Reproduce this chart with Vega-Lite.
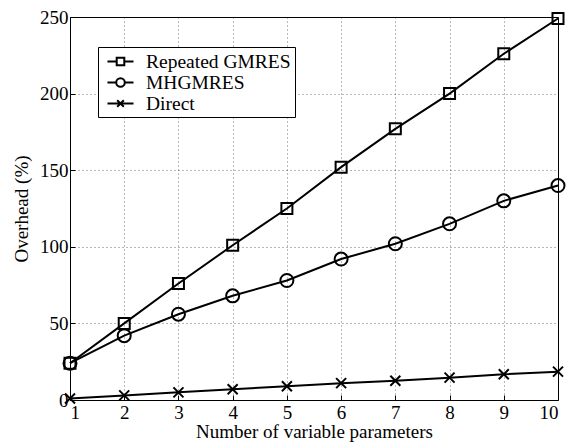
{
  "$schema": "https://vega.github.io/schema/vega-lite/v6.json",
  "width": 488,
  "height": 383,
  "autosize": "none",
  "padding": {"left": 70, "top": 17, "right": 22, "bottom": 44},
  "background": "white",
  "config": {
    "font": "Liberation Serif",
    "view": {"stroke": "black", "strokeWidth": 1},
    "axis": {
      "domain": false,
      "tickColor": "black",
      "tickSize": -5,
      "tickWidth": 1,
      "labelFont": "Liberation Serif",
      "labelFontSize": 19,
      "labelColor": "black",
      "titleFont": "Liberation Serif",
      "titleFontSize": 19,
      "titleFontWeight": "normal",
      "titleColor": "black",
      "gridColor": "black",
      "gridDash": [1, 3],
      "gridWidth": 0.8,
      "gridOpacity": 0.7
    }
  },
  "data": {
    "values": [
      {"n": 1, "series": "Repeated GMRES", "overhead": 24},
      {"n": 2, "series": "Repeated GMRES", "overhead": 50},
      {"n": 3, "series": "Repeated GMRES", "overhead": 76},
      {"n": 4, "series": "Repeated GMRES", "overhead": 101},
      {"n": 5, "series": "Repeated GMRES", "overhead": 125},
      {"n": 6, "series": "Repeated GMRES", "overhead": 152},
      {"n": 7, "series": "Repeated GMRES", "overhead": 177},
      {"n": 8, "series": "Repeated GMRES", "overhead": 200},
      {"n": 9, "series": "Repeated GMRES", "overhead": 226},
      {"n": 10, "series": "Repeated GMRES", "overhead": 249},
      {"n": 1, "series": "MHGMRES", "overhead": 24},
      {"n": 2, "series": "MHGMRES", "overhead": 42},
      {"n": 3, "series": "MHGMRES", "overhead": 56},
      {"n": 4, "series": "MHGMRES", "overhead": 68},
      {"n": 5, "series": "MHGMRES", "overhead": 78},
      {"n": 6, "series": "MHGMRES", "overhead": 92},
      {"n": 7, "series": "MHGMRES", "overhead": 102},
      {"n": 8, "series": "MHGMRES", "overhead": 115},
      {"n": 9, "series": "MHGMRES", "overhead": 130},
      {"n": 10, "series": "MHGMRES", "overhead": 140},
      {"n": 1, "series": "Direct", "overhead": 1},
      {"n": 2, "series": "Direct", "overhead": 3},
      {"n": 3, "series": "Direct", "overhead": 5},
      {"n": 4, "series": "Direct", "overhead": 7},
      {"n": 5, "series": "Direct", "overhead": 9},
      {"n": 6, "series": "Direct", "overhead": 11},
      {"n": 7, "series": "Direct", "overhead": 12.6},
      {"n": 8, "series": "Direct", "overhead": 14.6},
      {"n": 9, "series": "Direct", "overhead": 16.8},
      {"n": 10, "series": "Direct", "overhead": 18.5}
    ]
  },
  "encoding": {
    "x": {
      "field": "n",
      "type": "quantitative",
      "scale": {"domain": [1, 10], "nice": false},
      "axis": {"values": [1, 2, 3, 4, 5, 6, 7, 8, 9, 10], "title": "Number of variable parameters", "labelPadding": 8, "titlePadding": 0}
    },
    "y": {
      "field": "overhead",
      "type": "quantitative",
      "scale": {"domain": [0, 250], "nice": false},
      "axis": {"values": [0, 50, 100, 150, 200, 250], "title": "Overhead (%)", "labelPadding": 7, "titlePadding": 8}
    }
  },
  "layer": [
    {
      "mark": {"type": "line", "strokeWidth": 2, "color": "black"},
      "encoding": {
        "color": {
          "field": "series",
          "type": "nominal",
          "scale": {"domain": ["Repeated GMRES", "MHGMRES", "Direct"], "range": ["black", "black", "black"]},
          "legend": {
            "orient": "none",
            "legendX": 28,
            "legendY": 30,
            "title": null,
            "strokeColor": "black",
            "fillColor": "white",
            "padding": 4,
            "labelFont": "Liberation Serif",
            "labelFontSize": 19.5,
            "labelColor": "black",
            "symbolSize": 361,
            "symbolStrokeWidth": 2,
            "symbolFillColor": "transparent",
            "symbolStrokeColor": "black",
            "symbolOffset": 8,
            "rowPadding": 1,
            "labelOffset": 15,
            "encode": {
              "symbols": {
                "update": {
                  "shape": {"signal": "datum.value === 'Repeated GMRES' ? 'M-1.37,0H-0.4M0.4,0H1.37M-0.4,-0.4H0.4V0.4H-0.4Z' : datum.value === 'MHGMRES' ? 'M-1.37,0H-0.45M0.45,0H1.37M0.45,0A0.45,0.45 0 1,1 -0.45,0A0.45,0.45 0 1,1 0.45,0' : 'M-1.37,0H1.37M-0.35,-0.35L0.35,0.35M0.35,-0.35L-0.35,0.35'"}
                }
              }
            }
          }
        }
      }
    },
    {
      "transform": [{"filter": "datum.series === 'Repeated GMRES'"}],
      "mark": {"type": "point", "shape": "square", "size": 121, "filled": false, "strokeWidth": 2, "color": "black", "opacity": 1}
    },
    {
      "transform": [{"filter": "datum.series === 'MHGMRES'"}],
      "mark": {"type": "point", "shape": "circle", "size": 169, "filled": false, "strokeWidth": 2, "color": "black", "opacity": 1}
    },
    {
      "transform": [{"filter": "datum.series === 'Direct'"}],
      "mark": {"type": "point", "shape": "M-1,-1L1,1M1,-1L-1,1", "size": 100, "filled": false, "strokeWidth": 2, "color": "black", "opacity": 1}
    }
  ]
}
